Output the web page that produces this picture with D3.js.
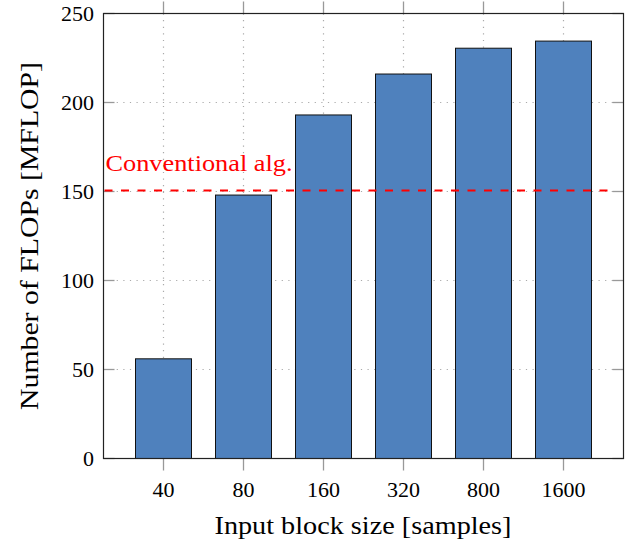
<!DOCTYPE html>
<html lang="en">
<head>
<meta charset="utf-8">
<title>FLOPs vs block size</title>
<script src="https://cdn.jsdelivr.net/npm/d3@7"></script>
<style>
  body { margin: 0; background: #fff; }
  text { font-family: "Liberation Serif", "DejaVu Serif", serif; fill: #000; }
</style>
</head>
<body>
<script>
// data
var blockSizes = ["40", "80", "160", "320", "800", "1600"];
var flops = [56, 148, 193, 216, 230.5, 234.5];
var conventional = 150.5;
var yTicks = [0, 50, 100, 150, 200, 250];

var w = 632, h = 542;
var pl = 103.5, pr = 623.5, pt = 13.5, pb = 458.5;

var svg = d3.select("body").append("svg")
  .attr("width", w)
  .attr("height", h);

var x = d3.scaleBand()
  .domain(blockSizes)
  .range([pl, pr])
  .paddingInner(0.3)
  .paddingOuter(0.4);

var y = d3.scaleLinear()
  .domain([0, 250])
  .range([pb, pt]);

function mid(d) { return x(d) + x.bandwidth() / 2; }

// grid, dotted
svg.append("g").selectAll("line")
  .data(blockSizes)
  .enter().append("line")
  .attr("x1", mid).attr("x2", mid)
  .attr("y1", pt).attr("y2", pb)
  .attr("stroke", "#aaa").attr("stroke-width", 1.2)
  .attr("stroke-dasharray", "1.2,5.4");

svg.append("g").selectAll("line")
  .data(yTicks.slice(1, -1))
  .enter().append("line")
  .attr("x1", pl).attr("x2", pr)
  .attr("y1", function(d) { return y(d); })
  .attr("y2", function(d) { return y(d); })
  .attr("stroke", "#aaa").attr("stroke-width", 1.2)
  .attr("stroke-dasharray", "1.2,5.4");

// x ticks, outside top and bottom
var tx = svg.append("g");
blockSizes.forEach(function(d) {
  tx.append("line").attr("x1", mid(d)).attr("x2", mid(d)).attr("y1", pt - 12).attr("y2", pt)
    .attr("stroke", "#999").attr("stroke-width", 1.3);
  tx.append("line").attr("x1", mid(d)).attr("x2", mid(d)).attr("y1", pb).attr("y2", pb + 12)
    .attr("stroke", "#999").attr("stroke-width", 1.3);
});

// y ticks, inside left and right
var ty = svg.append("g");
yTicks.forEach(function(d) {
  ty.append("line").attr("x1", pl).attr("x2", pl + 11).attr("y1", y(d)).attr("y2", y(d))
    .attr("stroke", "#999").attr("stroke-width", 1.3);
  ty.append("line").attr("x1", pr - 11).attr("x2", pr).attr("y1", y(d)).attr("y2", y(d))
    .attr("stroke", "#999").attr("stroke-width", 1.3);
});

// bars
svg.selectAll("rect.bar")
  .data(flops)
  .enter().append("rect")
  .attr("class", "bar")
  .attr("x", function(d, i) { return x(blockSizes[i]); })
  .attr("y", function(d) { return y(d); })
  .attr("width", x.bandwidth())
  .attr("height", function(d) { return y(0) - y(d); })
  .attr("fill", "#4f81bd")
  .attr("stroke", "#111")
  .attr("stroke-width", 1);

// conventional algorithm line
svg.append("line")
  .attr("x1", pl + 1).attr("x2", pr - 8)
  .attr("y1", y(conventional)).attr("y2", y(conventional))
  .attr("stroke", "#ff0000").attr("stroke-width", 2)
  .attr("stroke-dasharray", "8,8.5");

svg.append("text")
  .attr("x", pl + 2)
  .attr("y", 171)
  .attr("font-size", "24px")
  .attr("textLength", 187)
  .attr("lengthAdjust", "spacingAndGlyphs")
  .style("fill", "#ff0000")
  .text("Conventional alg.");

// frame
svg.append("rect")
  .attr("x", pl).attr("y", pt)
  .attr("width", pr - pl).attr("height", pb - pt)
  .attr("fill", "none").attr("stroke", "#222").attr("stroke-width", 1.2);

// tick labels
svg.append("g").selectAll("text")
  .data(blockSizes)
  .enter().append("text")
  .attr("x", mid)
  .attr("y", 497)
  .attr("text-anchor", "middle")
  .attr("font-size", "22px")
  .text(function(d) { return d; });

svg.append("g").selectAll("text")
  .data(yTicks)
  .enter().append("text")
  .attr("x", 94)
  .attr("y", function(d) { return y(d) + 7.5; })
  .attr("text-anchor", "end")
  .attr("font-size", "22px")
  .text(function(d) { return d; });

// axis titles
svg.append("text")
  .attr("x", 363)
  .attr("y", 534)
  .attr("text-anchor", "middle")
  .attr("font-size", "26px")
  .attr("textLength", 297)
  .attr("lengthAdjust", "spacingAndGlyphs")
  .text("Input block size [samples]");

svg.append("text")
  .attr("transform", "translate(38,236) rotate(-90)")
  .attr("text-anchor", "middle")
  .attr("font-size", "26px")
  .attr("textLength", 348)
  .attr("lengthAdjust", "spacingAndGlyphs")
  .text("Number of FLOPs [MFLOP]");
</script>
</body>
</html>
